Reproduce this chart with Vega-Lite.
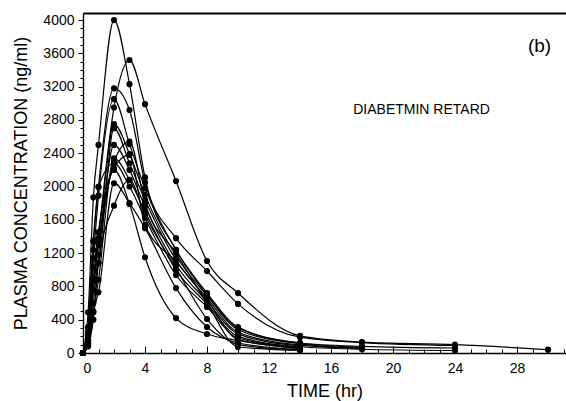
{
 "$schema": "https://vega.github.io/schema/vega-lite/v6.json",
 "width": 483, "height": 340,
 "autosize": {"type": "none"},
 "padding": {"left": 83, "top": 13, "right": 0, "bottom": 48},
 "background": "white",
 "config": {"view": {"stroke": null}, "font": "Liberation Sans",
   "axis": {"domainColor": "black", "tickColor": "black", "labelColor": "black", "titleColor": "black", "grid": false, "labelFont": "Liberation Sans", "titleFont": "Liberation Sans", "titleFontWeight": "normal", "domainWidth": 1.4, "tickWidth": 1}},
 "datasets": {
  "pk": [
   {"s":"A","t":0,"c":0},{"s":"A","t":0.33,"c":490},{"s":"A","t":0.67,"c":1870},{"s":"A","t":1,"c":2500},{"s":"A","t":2,"c":4000},{"s":"A","t":3,"c":3230},{"s":"A","t":4,"c":2110},{"s":"A","t":6,"c":1240},{"s":"A","t":8,"c":700},{"s":"A","t":10,"c":300},{"s":"A","t":14,"c":120},{"s":"A","t":18,"c":70},
   {"s":"B","t":0,"c":0},{"s":"B","t":0.33,"c":190},{"s":"B","t":0.67,"c":760},{"s":"B","t":1,"c":1380},{"s":"B","t":2,"c":2950},{"s":"B","t":3,"c":3520},{"s":"B","t":4,"c":2990},{"s":"B","t":6,"c":2066},{"s":"B","t":8,"c":1105},{"s":"B","t":10,"c":720},{"s":"B","t":14,"c":205},{"s":"B","t":18,"c":130},{"s":"B","t":24,"c":100},{"s":"B","t":30,"c":40},
   {"s":"C","t":0,"c":0},{"s":"C","t":0.33,"c":310},{"s":"C","t":0.67,"c":1340},{"s":"C","t":1,"c":2000},{"s":"C","t":2,"c":3180},{"s":"C","t":3,"c":2920},{"s":"C","t":4,"c":2050},{"s":"C","t":6,"c":1380},{"s":"C","t":8,"c":985},{"s":"C","t":10,"c":590},{"s":"C","t":14,"c":190},{"s":"C","t":18,"c":125},{"s":"C","t":24,"c":90},
   {"s":"D","t":0,"c":0},{"s":"D","t":0.33,"c":120},{"s":"D","t":0.67,"c":1140},{"s":"D","t":1,"c":1890},{"s":"D","t":2,"c":3050},{"s":"D","t":3,"c":2510},{"s":"D","t":4,"c":1980},{"s":"D","t":6,"c":1237},{"s":"D","t":8,"c":720},{"s":"D","t":10,"c":312},{"s":"D","t":14,"c":120},{"s":"D","t":18,"c":80},{"s":"D","t":24,"c":60},
   {"s":"E","t":0,"c":0},{"s":"E","t":0.33,"c":250},{"s":"E","t":0.67,"c":1240},{"s":"E","t":1,"c":1450},{"s":"E","t":2,"c":2750},{"s":"E","t":3,"c":2390},{"s":"E","t":4,"c":1900},{"s":"E","t":6,"c":1165},{"s":"E","t":8,"c":690},{"s":"E","t":10,"c":280},{"s":"E","t":14,"c":110},{"s":"E","t":18,"c":60},
   {"s":"F","t":0,"c":0},{"s":"F","t":0.33,"c":200},{"s":"F","t":0.67,"c":880},{"s":"F","t":1,"c":1080},{"s":"F","t":2,"c":2700},{"s":"F","t":3,"c":2280},{"s":"F","t":4,"c":1840},{"s":"F","t":6,"c":1117},{"s":"F","t":8,"c":660},{"s":"F","t":10,"c":250},{"s":"F","t":14,"c":95},{"s":"F","t":18,"c":55},
   {"s":"G","t":0,"c":0},{"s":"G","t":0.33,"c":150},{"s":"G","t":0.67,"c":1030},{"s":"G","t":1,"c":1330},{"s":"G","t":2,"c":2500},{"s":"G","t":3,"c":2200},{"s":"G","t":4,"c":1760},{"s":"G","t":6,"c":1057},{"s":"G","t":8,"c":620},{"s":"G","t":10,"c":230},{"s":"G","t":14,"c":85},
   {"s":"H","t":0,"c":0},{"s":"H","t":0.33,"c":100},{"s":"H","t":0.67,"c":490},{"s":"H","t":1,"c":880},{"s":"H","t":2,"c":2340},{"s":"H","t":3,"c":2080},{"s":"H","t":4,"c":1700},{"s":"H","t":6,"c":997},{"s":"H","t":8,"c":590},{"s":"H","t":10,"c":200},{"s":"H","t":14,"c":75},{"s":"H","t":18,"c":45},{"s":"H","t":24,"c":30},
   {"s":"I","t":0,"c":0},{"s":"I","t":0.33,"c":300},{"s":"I","t":0.67,"c":1350},{"s":"I","t":1,"c":1990},{"s":"I","t":2,"c":2280},{"s":"I","t":3,"c":2000},{"s":"I","t":4,"c":1620},{"s":"I","t":6,"c":937},{"s":"I","t":8,"c":553},{"s":"I","t":10,"c":180},{"s":"I","t":14,"c":70},
   {"s":"J","t":0,"c":0},{"s":"J","t":0.33,"c":150},{"s":"J","t":0.67,"c":760},{"s":"J","t":1,"c":1450},{"s":"J","t":2,"c":2220},{"s":"J","t":3,"c":2380},{"s":"J","t":4,"c":1537},{"s":"J","t":6,"c":1100},{"s":"J","t":8,"c":640},{"s":"J","t":10,"c":160},{"s":"J","t":14,"c":60},
   {"s":"K","t":0,"c":0},{"s":"K","t":0.33,"c":80},{"s":"K","t":0.67,"c":500},{"s":"K","t":1,"c":730},{"s":"K","t":2,"c":2040},{"s":"K","t":3,"c":1800},{"s":"K","t":4,"c":1500},{"s":"K","t":6,"c":780},{"s":"K","t":8,"c":312},{"s":"K","t":10,"c":120},{"s":"K","t":14,"c":40},
   {"s":"L","t":0,"c":0},{"s":"L","t":0.33,"c":200},{"s":"L","t":0.67,"c":900},{"s":"L","t":1,"c":1300},{"s":"L","t":2,"c":2200},{"s":"L","t":3,"c":1790},{"s":"L","t":4,"c":1150},{"s":"L","t":6,"c":420},{"s":"L","t":8,"c":228},{"s":"L","t":10,"c":150},{"s":"L","t":14,"c":50},
   {"s":"M","t":0,"c":0},{"s":"M","t":0.33,"c":90},{"s":"M","t":0.67,"c":400},{"s":"M","t":1,"c":1080},{"s":"M","t":2,"c":1770},{"s":"M","t":3,"c":2080},{"s":"M","t":4,"c":1657},{"s":"M","t":6,"c":1020},{"s":"M","t":8,"c":408},{"s":"M","t":10,"c":100},{"s":"M","t":14,"c":36},
   {"s":"N","t":0,"c":0},{"s":"N","t":0.33,"c":120},{"s":"N","t":0.67,"c":600},{"s":"N","t":1,"c":1180},{"s":"N","t":2,"c":2300},{"s":"N","t":3,"c":2540},{"s":"N","t":4,"c":1800},{"s":"N","t":6,"c":1200},{"s":"N","t":8,"c":600},{"s":"N","t":10,"c":72},{"s":"N","t":14,"c":30}
  ],
  "notes": [
   {"t": 21.84, "c": 2920, "label": "DIABETMIN RETARD", "k": "a"},
   {"t": 29.45, "c": 3690, "label": "(b)", "k": "b"}
  ]
 },
 "layer": [
  {"data": {"name": "pk"},
   "mark": {"type": "line", "interpolate": "monotone", "color": "black", "strokeWidth": 1.2},
   "encoding": {
    "x": {"field": "t", "type": "quantitative", "scale": {"domain": [0, 31.16], "nice": false, "zero": false},
      "axis": {"orient": "bottom", "values": [0,4,8,12,16,20,24,28], "format": "d", "ticks": false, "labelFontSize": 14, "labelPadding": 8, "title": "TIME (hr)", "titleFontSize": 18, "titlePadding": 7}},
    "y": {"field": "c", "type": "quantitative", "scale": {"domain": [0, 4085], "nice": false},
      "axis": {"orient": "left", "values": [0,400,800,1200,1600,2000,2400,2800,3200,3600,4000], "format": "d", "tickSize": 5, "labelFontSize": 14, "labelPadding": 4, "title": "PLASMA CONCENTRATION (ng/ml)", "titleFontSize": 18, "titlePadding": 12}},
    "detail": {"field": "s"}
   }},
  {"data": {"name": "pk"},
   "mark": {"type": "circle", "color": "black", "size": 38, "opacity": 1},
   "encoding": {
    "x": {"field": "t", "type": "quantitative", "scale": {"domain": [0, 31.16], "nice": false, "zero": false},
      "axis": {"orient": "bottom", "values": [0,4,8,12,16,20,24,28], "labels": false, "domain": false, "tickSize": -7, "title": null}},
    "y": {"field": "c", "type": "quantitative", "scale": {"domain": [0, 4085], "nice": false},
      "axis": {"orient": "left", "values": [0,100,200,300,400,500,600,700,800,900,1000,1100,1200,1300,1400,1500,1600,1700,1800,1900,2000,2100,2200,2300,2400,2500,2600,2700,2800,2900,3000,3100,3200,3300,3400,3500,3600,3700,3800,3900,4000], "labels": false, "domain": false, "tickSize": 3, "title": null}}
   }},
  {"data": {"name": "notes"},
   "transform": [{"filter": "datum.k == 'a'"}],
   "mark": {"type": "text", "fontSize": 14, "font": "Liberation Sans", "color": "black"},
   "encoding": {
    "x": {"field": "t", "type": "quantitative", "scale": {"domain": [0, 31.16], "nice": false, "zero": false},
      "axis": {"orient": "bottom", "values": [0,1,2,3,4,5,6,7,8,9,10,11,12,13,14,15,16,17,18,19,20,21,22,23,24,25,26,27,28,29,30,31], "labels": false, "domain": false, "tickSize": -4, "title": null}},
    "y": {"field": "c", "type": "quantitative", "scale": {"domain": [0, 4085], "nice": false}, "axis": null},
    "text": {"field": "label"}
   }},
  {"data": {"name": "notes"},
   "transform": [{"filter": "datum.k == 'b'"}],
   "mark": {"type": "text", "fontSize": 19, "font": "Liberation Sans", "color": "black"},
   "encoding": {
    "x": {"field": "t", "type": "quantitative", "scale": {"domain": [0, 31.16], "nice": false, "zero": false},
      "axis": {"orient": "top", "labels": false, "ticks": false, "domain": true, "title": null, "domainWidth": 1.8}},
    "y": {"field": "c", "type": "quantitative", "scale": {"domain": [0, 4085], "nice": false}, "axis": null},
    "text": {"field": "label"}
   }}
 ],
 "resolve": {"axis": {"x": "independent", "y": "independent"}}
}
